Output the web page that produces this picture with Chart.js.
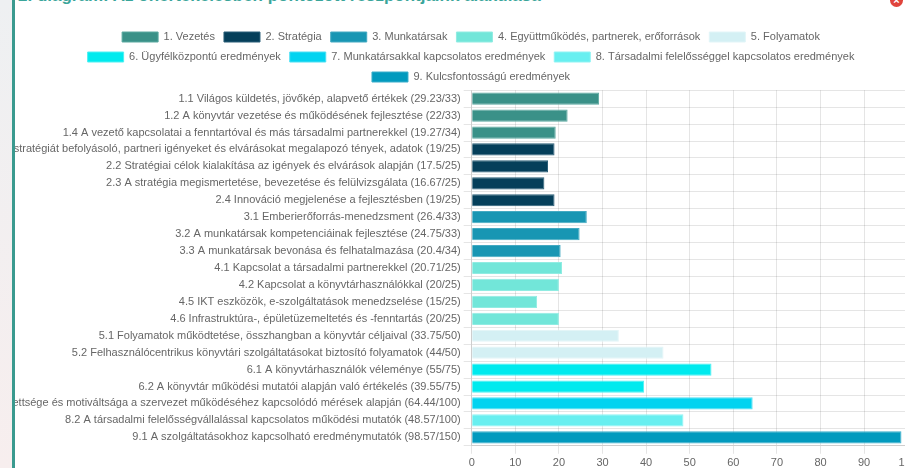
<!DOCTYPE html>
<html><head><meta charset="utf-8">
<script src="https://cdn.jsdelivr.net/npm/chart.js@4"></script>
<style>
html,body{margin:0;padding:0;width:905px;height:468px;overflow:hidden;}
body{background:linear-gradient(#eef0f2,#f7eeee);position:relative;font-family:"Liberation Sans",Arial,sans-serif;}
#modal{position:absolute;left:12px;top:-40px;width:1000px;height:600px;background:#fff;border-left:3px solid #3a9a8f;}
#title{position:absolute;left:18px;top:-14px;font-size:17px;font-weight:bold;color:#3aa59a;white-space:nowrap;}
#close{position:absolute;left:890px;top:-6px;width:13px;height:13px;border-radius:50%;background:#e0443c;color:#fff;font-size:11px;line-height:13px;text-align:center;font-weight:bold;}
#clip{position:absolute;left:15px;top:0;width:890px;height:468px;overflow:hidden;}
#wrap{position:absolute;left:-115px;top:0;width:1108px;height:473px;}
</style></head>
<body>
<div id="modal"></div>
<div id="title">2. diagram: Az önértékelésben pontozott részpontjaink alakulása</div>
<div id="close">×</div>
<div id="clip"><div id="wrap"><canvas id="c"></canvas></div></div>
<script>
const categories = [
 "1.1 Világos küldetés, jövőkép, alapvető értékek (29.23/33)",
 "1.2 A könyvtár vezetése és működésének fejlesztése (22/33)",
 "1.4 A vezető kapcsolatai a fenntartóval és más társadalmi partnerekkel (19.27/34)",
 "2.1 A stratégiát befolyásoló, partneri igényeket és elvárásokat megalapozó tények, adatok (19/25)",
 "2.2 Stratégiai célok kialakítása az igények és elvárások alapján (17.5/25)",
 "2.3 A stratégia megismertetése, bevezetése és felülvizsgálata (16.67/25)",
 "2.4 Innováció megjelenése a fejlesztésben (19/25)",
 "3.1 Emberierőforrás-menedzsment (26.4/33)",
 "3.2 A munkatársak kompetenciáinak fejlesztése (24.75/33)",
 "3.3 A munkatársak bevonása és felhatalmazása (20.4/34)",
 "4.1 Kapcsolat a társadalmi partnerekkel (20.71/25)",
 "4.2 Kapcsolat a könyvtárhasználókkal (20/25)",
 "4.5 IKT eszközök, e-szolgáltatások menedzselése (15/25)",
 "4.6 Infrastruktúra-, épületüzemeltetés és -fenntartás (20/25)",
 "5.1 Folyamatok működtetése, összhangban a könyvtár céljaival (33.75/50)",
 "5.2 Felhasználócentrikus könyvtári szolgáltatásokat biztosító folyamatok (44/50)",
 "6.1 A könyvtárhasználók véleménye (55/75)",
 "6.2 A könyvtár működési mutatói alapján való értékelés (39.55/75)",
 "7.1 A munkatársak elégedettsége és motiváltsága a szervezet működéséhez kapcsolódó mérések alapján (64.44/100)",
 "8.2 A társadalmi felelősségvállalással kapcsolatos működési mutatók (48.57/100)",
 "9.1 A szolgáltatásokhoz kapcsolható eredménymutatók (98.57/150)"
];
const scores = [29.23, 22, 19.27, 19, 17.5, 16.67, 19, 26.4, 24.75, 20.4, 20.71, 20, 15, 20, 33.75, 44, 55, 39.55, 64.44, 48.57, 98.57];
const groupOf = [0,0,0,1,1,1,1,2,2,2,3,3,3,3,4,4,5,5,6,7,8];
const groupNames = [
 "1. Vezetés", "2. Stratégia", "3. Munkatársak", "4. Együttműködés, partnerek, erőforrások",
 "5. Folyamatok", "6. Ügyfélközpontú eredmények", "7. Munkatársakkal kapcsolatos eredmények",
 "8. Társadalmi felelősséggel kapcsolatos eredmények", "9. Kulcsfontosságú eredmények"
];
const groupColors = ["#3a9188", "#053f5a", "#1896b3", "#72e6d9", "#d4f0f4", "#00eaee", "#02d3f0", "#68eff0", "#029abe"];
const groupBorders = ["#5aa9a0", "#2a5f78", "#44aac2", "#90ece2", "#e2f5f8", "#4ef0f2", "#4cdff3", "#8ff3f3", "#3aaecb"];

const datasets = groupNames.map((name, g) => ({
  label: name,
  data: scores.map((v, i) => groupOf[i] === g ? v : null),
  backgroundColor: groupColors[g],
  borderColor: groupBorders[g],
  borderWidth: 1,
  barPercentage: 0.9,
  categoryPercentage: 0.8
}));

Chart.defaults.font.family = "'Liberation Sans', Arial, sans-serif";
Chart.defaults.color = '#666';

// let long category labels run past the axis box (they are clipped by the page container instead)
if (Chart.Scale && Chart.Scale.prototype) {
  Chart.Scale.prototype._computeLabelArea = function () { return undefined; };
}

const legendTrim = {
  id: 'legendTrim',
  beforeLayout(chart) {
    const lg = chart.legend;
    if (lg && !lg._trimmed) {
      const f = lg.fit;
      lg.fit = function () { f.call(this); this.height -= 2.3; };
      lg._trimmed = true;
    }
  }
};

const chart = new Chart(document.getElementById('c'), {
  type: 'bar',
  data: { labels: categories, datasets },
  plugins: [legendTrim],
  options: {
    indexAxis: 'y',
    responsive: true,
    maintainAspectRatio: false,
    animation: false,
    layout: { padding: { left: 134.3, right: 100.3, top: 22.5, bottom: 0 } },
    plugins: {
      legend: { position: 'top', labels: { boxWidth: 36, boxHeight: 10, padding: 9, color: '#666', font: { size: 11 } } },
      tooltip: { enabled: false }
    },
    scales: {
      x: { stacked: true, min: 0, max: 100, ticks: { stepSize: 10, color: '#666', font: { size: 11 } }, grid: { color: 'rgba(0,0,0,0.1)' } },
      y: { stacked: true, ticks: { color: '#666', font: { size: 11 }, autoSkip: false }, grid: { color: 'rgba(0,0,0,0.1)' },
           afterFit: s => { s.width = 437.4; } }
    }
  }
});
chart.scales.y._computeLabelArea = function () { return undefined; };
chart.update('none');
</script>
</body></html>
